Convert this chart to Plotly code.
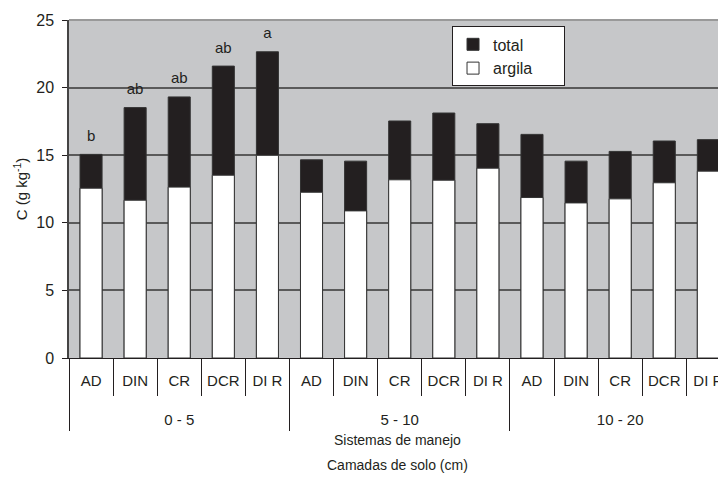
import plotly.graph_objects as go

camadas_nomes = ["0 - 5", "5 - 10", "10 - 20"]
sistemas_nomes = ["AD", "DIN", "CR", "DCR", "DI R"]
camadas = [c for c in camadas_nomes for _ in sistemas_nomes]
sistemas = sistemas_nomes * len(camadas_nomes)
total = [15.06, 18.52, 19.31, 21.59, 22.65,
         14.66, 14.56, 17.53, 18.12, 17.33,
         16.54, 14.56, 15.28, 16.05, 16.15]
argila = [12.56, 11.67, 12.64, 13.52, 14.99,
          12.26, 10.88, 13.18, 13.15, 14.04,
          11.87, 11.47, 11.77, 12.96, 13.82]
letras = ["b", "ab", "ab", "ab", "a"] + [""] * 10

n = len(sistemas)
g = len(sistemas_nomes)
pos = list(range(n))
font = "Liberation Sans, Arial, sans-serif"
dark = "#231f20"
nb = "\u00a0"

fig = go.Figure()
fig.add_trace(go.Bar(x=pos, y=total, name="total" + nb * 6, width=0.5,
                     marker=dict(color=dark, line=dict(color="#333333", width=1))))
fig.add_trace(go.Bar(x=pos, y=argila, name="argila" + nb * 6, width=0.5,
                     marker=dict(color="white", line=dict(color="#333333", width=1))))
fig.add_trace(go.Scatter(x=pos, y=total, mode="markers+text", text=letras,
                         textposition="top center", showlegend=False,
                         marker=dict(size=14, color="rgba(0,0,0,0)"),
                         textfont=dict(size=15, color=dark, family=font),
                         hoverinfo="skip"))
# invisible trace to activate the second x axis (group labels)
fig.add_trace(go.Scatter(x=pos, y=[None] * n, xaxis="x2", showlegend=False,
                         hoverinfo="skip", mode="markers"))

xr = [-0.5, n - 0.6]
fig.update_layout(
    width=718, height=475,
    barmode="overlay",
    paper_bgcolor="white",
    plot_bgcolor="#c6c7c9",
    margin=dict(l=61, r=0, t=12, b=125),
    font=dict(family=font, size=15, color=dark),
    showlegend=True,
    legend=dict(x=0.583, y=0.981, xanchor="left", yanchor="top",
                bgcolor="white", bordercolor=dark, borderwidth=1,
                font=dict(size=16), itemwidth=30),
    xaxis=dict(range=xr, tickmode="array", tickvals=pos, ticktext=sistemas,
               ticks="", showline=True, linecolor=dark, linewidth=1,
               tickfont=dict(size=15), ticklabelstandoff=9,
               minor=dict(tickmode="linear", tick0=-0.5, dtick=1, ticks="outside",
                          ticklen=37, tickcolor=dark, tickwidth=1, showgrid=False),
               showgrid=False, zeroline=False, automargin=False),
    xaxis2=dict(range=xr, overlaying="x", side="bottom", anchor="y",
                tickmode="array",
                tickvals=[i * g + (g - 1) / 2 for i in range(len(camadas_nomes))],
                ticktext=camadas_nomes, ticks="", showline=False,
                tickfont=dict(size=15), ticklabelstandoff=51,
                minor=dict(tickmode="linear", tick0=-0.5, dtick=g, ticks="outside",
                           ticklen=72, tickcolor=dark, tickwidth=1, showgrid=False),
                showgrid=False, zeroline=False, automargin=False),
    yaxis=dict(range=[0, 25], dtick=5, showgrid=True, gridcolor="#5a5a5a", gridwidth=1.5,
               showline=True, linecolor="#444444", linewidth=1.5,
               ticks="outside", ticklen=5, tickcolor=dark,
               tickfont=dict(size=16), ticklabelstandoff=5,
               title=dict(text="C (g kg<sup>-1</sup>)", font=dict(size=15), standoff=5),
               zeroline=False, automargin=False),
    annotations=[
        dict(text="Sistemas de manejo", xref="paper", yref="paper", x=0.5, y=-82 / 338,
             xanchor="center", yanchor="middle", showarrow=False,
             font=dict(size=14)),
        dict(text="Camadas de solo (cm)", xref="paper", yref="paper", x=0.5, y=-107 / 338,
             xanchor="center", yanchor="middle", showarrow=False,
             font=dict(size=14)),
    ],
)
fig.add_shape(type="line", xref="paper", yref="paper", x0=0, x1=1, y0=1, y1=1,
              line=dict(color="#999999", width=2))
fig.write_html("out.html")
